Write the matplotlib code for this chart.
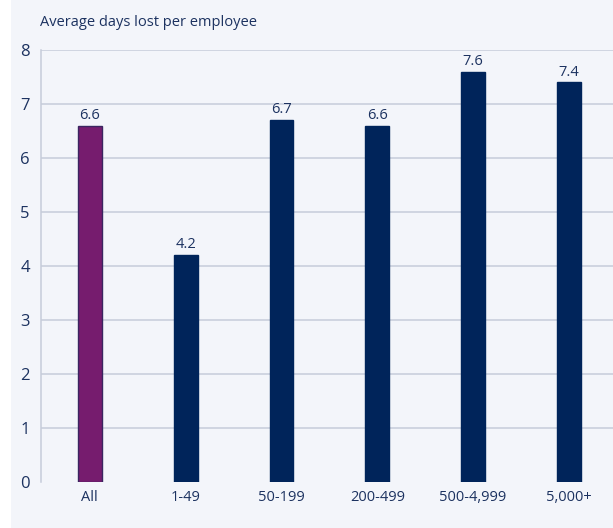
import matplotlib.pyplot as plt
from matplotlib.patches import Rectangle

categories = ['All', '1-49', '50-199', '200-499', '500-4,999', '5,000+']
days_lost = [6.6, 4.2, 6.7, 6.6, 7.6, 7.4]
y_ticks = [0, 1, 2, 3, 4, 5, 6, 7, 8]

bg = '#f3f5fa'
navy = '#00245a'
purple = '#761c6e'
text_col = '#1c3260'
grid_col = '#c6ccda'

plt.rcParams['font.family'] = ['Open Sans', 'DejaVu Sans']

fig = plt.figure(figsize=(6.13, 5.28), dpi=100, facecolor='white')
fig.patches.append(Rectangle((11 / 613, 0), 1, 1, transform=fig.transFigure,
                             facecolor=bg, edgecolor='none', zorder=-1))

ax = fig.add_axes([41 / 613, 1 - 482 / 528, 1 - 41 / 613, (482 - 50) / 528])
ax.set_facecolor(bg)

x = list(range(len(categories)))
colors = [purple] + [navy] * (len(categories) - 1)
edges = ['#3a2560'] + [navy] * (len(categories) - 1)
bars = ax.bar(x, days_lost, width=0.25, color=colors, edgecolor=edges,
              linewidth=1, zorder=3)

for b, v in zip(bars, days_lost):
    ax.text(b.get_x() + b.get_width() / 2, v + 0.05, f'{v:.1f}',
            ha='center', va='bottom', fontsize=10.5, color=text_col)

ax.set_ylim(0, 8)
ax.set_xlim(-0.51, 5.46)
ax.set_yticks(y_ticks)
ax.set_xticks(x)
ax.set_xticklabels(categories)
for y in y_ticks[1:]:
    ax.axhline(y, color=grid_col, linewidth=1.1, zorder=1)

ax.tick_params(axis='y', length=0, pad=8, labelsize=12, labelcolor=text_col)
ax.tick_params(axis='x', length=0, pad=6, labelsize=10.5, labelcolor=text_col)
for s in ['top', 'right', 'bottom']:
    ax.spines[s].set_visible(False)
ax.spines['left'].set_color(grid_col)
ax.spines['left'].set_linewidth(1.1)

fig.text(40 / 613, 1 - 22 / 528, 'Average days lost per employee',
         fontsize=10.5, color=text_col, va='center', ha='left')

fig.savefig('out.png', dpi=100, facecolor=fig.get_facecolor())
